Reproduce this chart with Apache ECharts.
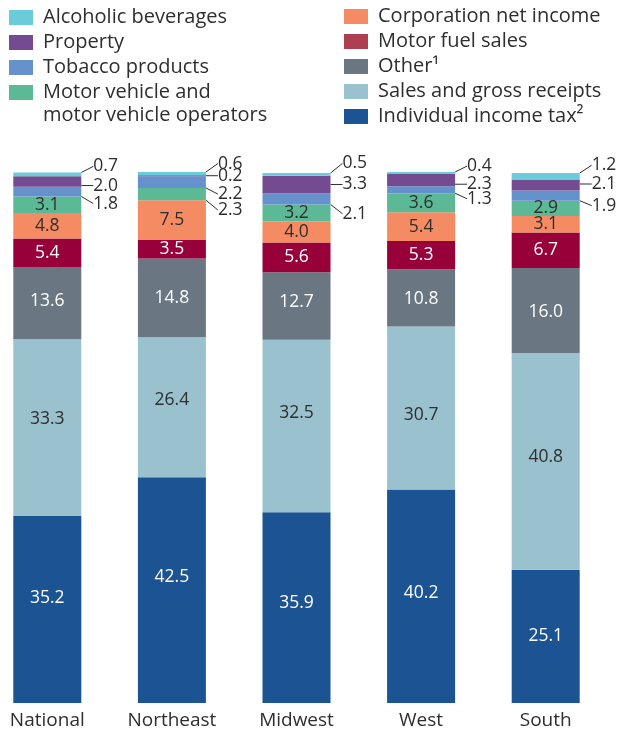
<!DOCTYPE html>
<html>
<head>
<meta charset="utf-8">
<script src="https://cdn.jsdelivr.net/npm/echarts@6/dist/echarts.min.js"></script>
<style>
  html, body { margin: 0; padding: 0; background: #fff; }
  #chart { width: 621px; height: 732px; }
</style>
</head>
<body>
<div id="chart"></div>
<script>
const categories = ["National", "Northeast", "Midwest", "West", "South"];

// shares of state tax revenue, percent (bottom to top of each bar)
const individualIncome = [35.2, 42.5, 35.9, 40.2, 25.1];
const salesGross = [33.3, 26.4, 32.5, 30.7, 40.8];
const otherTax = [13.6, 14.8, 12.7, 10.8, 16.0];
const motorFuel = [5.4, 3.5, 5.6, 5.3, 6.7];
const corpNetIncome = [4.8, 7.5, 4.0, 5.4, 3.1];
const motorVehicle = [3.1, 2.3, 3.2, 3.6, 2.9];
const tobacco = [1.8, 2.2, 2.1, 1.3, 1.9];
const property = [2.0, 0.2, 3.3, 2.3, 2.1];
const alcohol = [0.7, 0.6, 0.5, 0.4, 1.2];

const FONT = "Open Sans";
const DARK = "#2e2e2e";
const MV_NAME = "Motor vehicle and motor vehicle operators";

// vertical nudge (px) for labels placed outside the bar; null = inside label
const outsideNudge = {
  alcohol: [-8, -10, -11, -7, -11],
  property: [4, 0, 0, 4, -1],
  tobacco: [12, 12, 15, 9, 10],
  motorVehicle: [null, 16, null, null, null],
};
// small vertical nudges for labels that sit inside the bar
const insideNudge = {
  individualIncome: [-12, -13, -5, -3, 0],
  salesGross: [-9, -7, -13, 7, -4],
  otherTax: [-2, 0, -4, 1, 1],
};

const seriesDefs = [
  { key: "individualIncome", name: "Individual income tax²", data: individualIncome, color: "#1b5393", text: "#ffffff" },
  { key: "salesGross", name: "Sales and gross receipts", data: salesGross, color: "#99c1ce", text: DARK },
  { key: "otherTax", name: "Other¹", data: otherTax, color: "#6a7782", text: "#ffffff" },
  { key: "motorFuel", name: "Motor fuel sales", data: motorFuel, color: "#98003a", text: "#ffffff", legendColor: "#ad3f50" },
  { key: "corpNetIncome", name: "Corporation net income", data: corpNetIncome, color: "#f58b63", text: DARK },
  { key: "motorVehicle", name: MV_NAME, data: motorVehicle, color: "#5bba95", text: DARK },
  { key: "tobacco", name: "Tobacco products", data: tobacco, color: "#6592cc", text: DARK },
  { key: "property", name: "Property", data: property, color: "#744a90", text: DARK },
  { key: "alcohol", name: "Alcoholic beverages", data: alcohol, color: "#6acbdb", text: DARK },
];

const series = seriesDefs.map((s) => {
  const outer = outsideNudge[s.key] || [];
  const inner = insideNudge[s.key] || [];
  return {
    name: s.name,
    type: "bar",
    stack: "total",
    barWidth: 68,
    itemStyle: { color: s.color },
    emphasis: { disabled: true },
    data: s.data.map((v, i) => {
      const outside = outer[i] != null;
      return {
        value: v,
        label: {
          show: true,
          position: outside ? "right" : "inside",
          distance: 12,
          formatter: (p) => p.value.toFixed(1),
          color: outside ? DARK : s.text,
          fontFamily: FONT,
          fontSize: 17.5,
          fontWeight: 500,
        },
        labelLine: {
          show: outside,
          lineStyle: { color: DARK, width: 1 },
        },
      };
    }),
    labelLayout: (params) => {
      const n = outer[params.dataIndex] != null ? outer[params.dataIndex] : inner[params.dataIndex];
      return n != null ? { dy: n } : {};
    },
  };
});

const legendItem = (s) => ({
  name: s.name,
  itemStyle: { color: s.legendColor || s.color },
});
const byKey = (k) => seriesDefs.find((s) => s.key === k);

const legendBase = {
  orient: "vertical",
  selectedMode: false,
  icon: "rect",
  padding: 0,
  itemWidth: 24,
  itemHeight: 15,
  itemGap: 3,
  formatter: (name) => (name === MV_NAME ? "Motor vehicle and" : name),
  textStyle: {
    fontFamily: FONT,
    fontSize: 20,
    lineHeight: 22,
    color: DARK,
    padding: [0, 0, 0, 5],
  },
};

const chart = echarts.init(document.getElementById("chart"));
chart.setOption({
  animation: false,
  legend: [
    {
      ...legendBase,
      left: 9,
      top: 6.5,
      data: ["alcohol", "property", "tobacco", "motorVehicle"].map((k) => legendItem(byKey(k))),
    },
    {
      ...legendBase,
      left: 344,
      top: 5.5,
      data: ["corpNetIncome", "motorFuel", "otherTax", "salesGross", "individualIncome"].map((k) => legendItem(byKey(k))),
    },
  ],
  // second line of the wrapped legend entry
  graphic: [
    {
      type: "text",
      x: 43,
      y: 115,
      style: {
        text: "motor vehicle operators",
        font: "20px 'Open Sans'",
        fill: DARK,
        verticalAlign: "middle",
      },
    },
  ],
  grid: { left: -15, right: 13, top: 172, bottom: 29, outerBoundsMode: "none" },
  xAxis: {
    type: "category",
    data: categories,
    axisLine: { show: false },
    axisTick: { show: false },
    axisLabel: { color: DARK, fontFamily: FONT, fontSize: 19, margin: 8 },
  },
  yAxis: {
    type: "value",
    min: 0,
    max: 100,
    show: false,
    splitLine: { show: false },
  },
  series: series,
});
</script>
</body>
</html>
